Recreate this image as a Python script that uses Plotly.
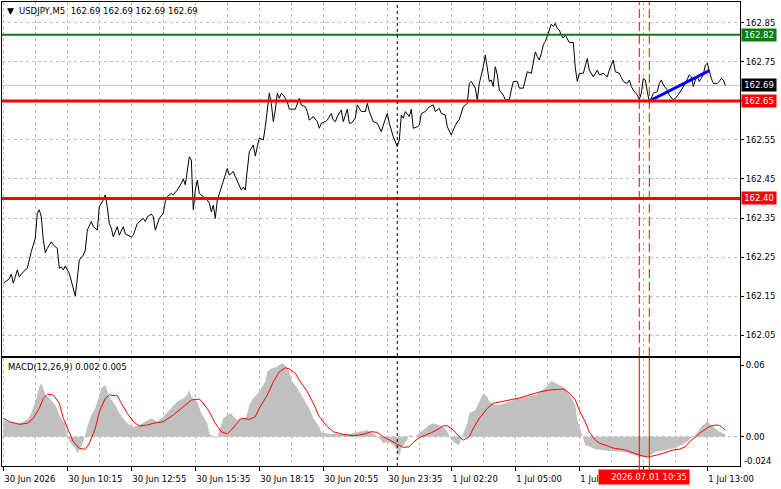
import plotly.graph_objects as go

# ---------------- data (bar index = 5-minute bar number) ----------------
price_bars = [0, 2, 3, 4, 5, 6, 7, 8, 10, 12, 14, 16, 17, 18, 19, 20, 21, 22, 24, 25, 27, 28, 29, 30, 31, 33, 34, 35, 36, 38,
              40, 41, 42, 44, 45, 47, 48, 50, 51, 52, 53, 54, 55, 57, 58, 60, 61, 64, 65, 67, 69, 70, 71, 72, 74, 75, 76, 78,
              80, 81, 82, 84, 85, 87, 89, 90, 91, 92, 93, 94, 95, 96, 97, 98, 100, 102, 103, 104, 105, 106, 107, 108, 109,
              110, 112, 113, 115, 116, 118, 119, 120, 121, 122, 123, 125, 126, 127, 128, 130, 131, 133, 134, 135, 136, 137,
              138, 139, 140, 142, 143, 146, 148, 149, 151, 152, 153, 155, 157, 158, 159, 161, 162, 164, 165, 166, 167, 169,
              170, 172, 173, 174, 176, 177, 178, 179, 181, 182, 183, 185, 187, 189, 190, 192, 193, 195, 197, 198, 199, 200,
              201, 203, 204, 205, 207, 208, 209, 211, 213, 215, 216, 218, 219, 221, 222, 224, 226, 228, 230, 232, 233, 234,
              236, 237, 238, 240, 241, 242, 243, 244, 245, 246, 247, 248, 250, 251, 253, 254, 255, 257, 258, 260, 261, 262,
              264, 265, 266, 267, 268, 269, 270, 271, 272, 274, 275, 276, 277, 278, 279, 280, 281, 282, 283, 285, 286, 287,
              288, 290, 292, 293, 295, 297, 298, 300, 302, 303, 305, 306, 308, 310, 312, 313, 314, 315, 317, 318, 319, 320,
              321, 322, 323, 324, 325, 327, 328, 329, 330, 332, 333, 335, 336, 338, 339, 341, 343, 344, 345, 346, 347, 348,
              350, 351, 352, 353, 354, 355, 357, 358, 359, 360, 361]
price_vals = [162.183, 162.191, 162.194, 162.206, 162.183, 162.199, 162.217, 162.199, 162.212, 162.221, 162.264, 162.298,
              162.362, 162.371, 162.353, 162.294, 162.261, 162.272, 162.289, 162.281, 162.272, 162.221, 162.225, 162.217,
              162.227, 162.208, 162.187, 162.165, 162.150, 162.242, 162.255, 162.268, 162.319, 162.341, 162.328, 162.319,
              162.379, 162.396, 162.409, 162.379, 162.336, 162.324, 162.302, 162.328, 162.306, 162.328, 162.309, 162.301,
              162.306, 162.336, 162.345, 162.349, 162.341, 162.353, 162.360, 162.353, 162.319, 162.349, 162.362, 162.392,
              162.405, 162.413, 162.409, 162.422, 162.439, 162.450, 162.435, 162.473, 162.507, 162.499, 162.371, 162.422,
              162.447, 162.413, 162.405, 162.396, 162.388, 162.366, 162.383, 162.349, 162.396, 162.413, 162.430, 162.447,
              162.477, 162.460, 162.469, 162.456, 162.430, 162.422, 162.429, 162.422, 162.473, 162.520, 162.537, 162.509,
              162.533, 162.555, 162.550, 162.584, 162.670, 162.644, 162.597, 162.627, 162.670, 162.657, 162.670, 162.665,
              162.648, 162.629, 162.629, 162.657, 162.640, 162.635, 162.623, 162.601, 162.610, 162.597, 162.580, 162.593,
              162.597, 162.601, 162.618, 162.601, 162.597, 162.610, 162.627, 162.597, 162.629, 162.593, 162.593, 162.606,
              162.640, 162.631, 162.623, 162.623, 162.644, 162.623, 162.597, 162.593, 162.571, 162.588, 162.618, 162.593,
              162.558, 162.533, 162.550, 162.614, 162.606, 162.623, 162.610, 162.629, 162.580, 162.584, 162.588, 162.618,
              162.623, 162.635, 162.640, 162.623, 162.631, 162.618, 162.614, 162.584, 162.563, 162.588, 162.603, 162.635,
              162.644, 162.695, 162.700, 162.683, 162.653, 162.695, 162.738, 162.768, 162.729, 162.700, 162.704, 162.687,
              162.738, 162.717, 162.678, 162.665, 162.653, 162.653, 162.678, 162.700, 162.700, 162.683, 162.683, 162.704,
              162.725, 162.721, 162.747, 162.776, 162.764, 162.755, 162.772, 162.794, 162.802, 162.819, 162.847, 162.841,
              162.849, 162.836, 162.832, 162.819, 162.811, 162.819, 162.808, 162.800, 162.800, 162.735, 162.700, 162.721,
              162.721, 162.759, 162.729, 162.712, 162.729, 162.717, 162.721, 162.712, 162.729, 162.755, 162.725, 162.721,
              162.700, 162.695, 162.704, 162.687, 162.678, 162.665, 162.654, 162.670, 162.708, 162.704, 162.674, 162.648,
              162.657, 162.670, 162.674, 162.695, 162.704, 162.691, 162.678, 162.665, 162.653, 162.657, 162.670, 162.678,
              162.695, 162.717, 162.712, 162.687, 162.704, 162.712, 162.700, 162.717, 162.742, 162.747, 162.725, 162.708,
              162.695, 162.695, 162.700, 162.708, 162.704, 162.690]

hist_bars = [0, 3, 8, 12, 14, 16, 18, 19, 20, 21, 23, 26, 28, 31, 32, 33, 36, 37, 38, 40, 41, 42, 44, 46, 48, 49, 51, 52,
             53, 56, 58, 62, 65, 68, 72, 74, 77, 80, 83, 87, 90, 92, 93, 94, 97, 99, 102, 103, 105, 107, 108, 110, 112, 114,
             115, 117, 118, 121, 122, 123, 125, 128, 131, 132, 134, 137, 139, 141, 143, 144, 147, 150, 153, 155, 158, 159,
             162, 167, 173, 178, 182, 185, 188, 190, 192, 195, 197, 198, 199, 202, 203, 206, 208, 211, 213, 215, 218, 220,
             222, 224, 226, 228, 229, 232, 233, 236, 238, 240, 242, 243, 246, 248, 258, 266, 271, 274, 278, 281, 283, 286,
             287, 289, 291, 296, 303, 311, 318, 322, 326, 331, 336, 341, 343, 346, 348, 349, 351, 352, 353, 354, 356, 358, 361]
hist_vals = [0.0140, 0.0126, 0.0112, 0.0140, 0.0196, 0.0293, 0.0418, 0.0447, 0.0405, 0.0349, 0.0321, 0.0265, 0.0181, 0.0098,
             0.0014, -0.0042, -0.0097, -0.0139, -0.0111, -0.0042, 0.0014, 0.0084, 0.0182, 0.0238, 0.0349, 0.0405, 0.0432,
             0.0391, 0.0335, 0.0265, 0.0196, 0.0112, 0.0084, 0.0098, 0.0140, 0.0154, 0.0126, 0.0167, 0.0223, 0.0293, 0.0321,
             0.0349, 0.0391, 0.0335, 0.0293, 0.0196, 0.0112, 0.0028, 0.0, -0.0013, 0.0056, 0.0154, 0.0182, 0.0196, 0.0167,
             0.0140, 0.0154, 0.0154, 0.0196, 0.0265, 0.0321, 0.0377, 0.0460, 0.0544, 0.0572, 0.0586, 0.0614, 0.0600, 0.0544,
             0.0474, 0.0405, 0.0321, 0.0238, 0.0154, 0.0084, 0.0037, 0.0028, 0.0023, 0.0023, 0.0042, 0.0056, 0.0028, -0.0013,
             -0.0055, -0.0042, -0.0069, -0.0111, -0.0167, -0.0097, -0.0028, 0.0014, 0.0, 0.0028, 0.0070, 0.0098, 0.0112,
             0.0098, 0.0084, 0.0042, -0.0028, -0.0055, -0.0069, -0.0013, 0.0112, 0.0196, 0.0223, 0.0293, 0.0363, 0.0335,
             0.0293, 0.0265, 0.0265, 0.0324, 0.0349, 0.0408, 0.0467, 0.0433, 0.0408, 0.0349, 0.0265, 0.0140, 0.0039, -0.0069,
             -0.0103, -0.0120, -0.0128, -0.0170, -0.0170, -0.0128, -0.0111, -0.0095, -0.0053, -0.0028, 0.0014, 0.0056,
             0.0084, 0.0112, 0.0134, 0.0112, 0.0098, 0.0070, 0.0042, 0.0020]

sig_bars = [0, 3, 8, 12, 15, 18, 20, 22, 25, 28, 30, 33, 35, 38, 41, 43, 46, 48, 51, 53, 57, 59, 62, 65, 68, 72, 75, 80, 85,
            90, 94, 98, 100, 103, 106, 109, 112, 114, 117, 119, 122, 123, 126, 128, 132, 135, 138, 141, 143, 146, 148, 152,
            155, 158, 162, 165, 170, 175, 180, 184, 187, 190, 194, 198, 200, 203, 205, 208, 211, 214, 218, 220, 222, 225,
            228, 230, 233, 235, 238, 242, 245, 248, 253, 258, 263, 268, 273, 280, 283, 286, 288, 291, 293, 296, 298, 305,
            311, 318, 322, 327, 335, 338, 341, 343, 346, 348, 351, 353, 356, 358, 359, 361]
sig_vals = [0.0154, 0.0126, 0.0104, 0.0112, 0.0154, 0.0238, 0.0321, 0.0355, 0.0349, 0.0280, 0.0154, 0.0042, -0.0042,
            -0.0097, -0.0105, -0.0055, 0.0070, 0.0209, 0.0321, 0.0349, 0.0343, 0.0280, 0.0196, 0.0126, 0.0090, 0.0098,
            0.0112, 0.0126, 0.0182, 0.0251, 0.0307, 0.0316, 0.0280, 0.0209, 0.0112, 0.0042, 0.0023, 0.0056, 0.0112, 0.0154,
            0.0148, 0.0145, 0.0167, 0.0238, 0.0349, 0.0460, 0.0544, 0.0577, 0.0567, 0.0531, 0.0474, 0.0377, 0.0280, 0.0167,
            0.0084, 0.0042, 0.0020, 0.0008, 0.0020, 0.0042, 0.0037, 0.0, -0.0036, -0.0069, -0.0089, -0.0084, -0.0047,
            -0.0008, 0.0014, 0.0033, 0.0070, 0.0092, 0.0092, 0.0056, 0.0, -0.0028, 0.0, 0.0070, 0.0154, 0.0238, 0.0280,
            0.0288, 0.0307, 0.0324, 0.0349, 0.0374, 0.0391, 0.0399, 0.0366, 0.0307, 0.0223, 0.0123, 0.0039, -0.0028,
            -0.0053, -0.0095, -0.0111, -0.0153, -0.0170, -0.0153, -0.0111, -0.0105, -0.0084, -0.0042, -0.0005, 0.0028,
            0.0062, 0.0084, 0.0098, 0.0095, 0.0084, 0.0055]

time_tick_bars = [0, 32, 64, 96, 128, 160, 192, 224, 256, 288, 320, 352]
# the label at bar 288 is cut by the red time marker box and the one at 320 is hidden by it
time_tick_labels = ["30 Jun 2026", "30 Jun 10:15", "30 Jun 12:55", "30 Jun 15:35", "30 Jun 18:15", "30 Jun 20:55",
                    "30 Jun 23:35", "1 Jul 02:20", "1 Jul 05:00", "1 Jul", "", "1 Jul 13:00"]
price_ticks = [162.05, 162.15, 162.25, 162.35, 162.45, 162.55, 162.65, 162.75, 162.85]
price_tick_labels = ["162.05", "162.15", "162.25", "162.35", "162.45", "162.55", "", "162.75", "162.85"]
macd_ticks = [0.06, 0.0]
macd_tick_labels = ["0.06", "0.00"]
macd_min_label = -0.024

level_green = 162.82
levels_red = [162.65, 162.40]
bid_price = 162.69
trend_bars = [323, 353]
trend_vals = [162.650, 162.728]
vline_black_bar = 197
vlines_red_bars = [318, 323]
marker_time_label = "2026.07.01 10:35"
title_text = "USDJPY,M5\u00a0\u00a0162.69 162.69 162.69 162.69"
macd_title = "MACD(12,26,9) 0.002 0.005"

# ---------------- figure ----------------
FONT = "DejaVu Sans"
FS = 8.5
GRID = "#c0c0c0"

fig = go.Figure()

fig.add_trace(go.Scatter(x=hist_bars, y=hist_vals, xaxis="x", yaxis="y2", mode="lines",
                         line=dict(width=0, color="#c0c0c0"), fill="tozeroy", fillcolor="#c0c0c0",
                         hoverinfo="skip", showlegend=False))
fig.add_trace(go.Scatter(x=sig_bars, y=sig_vals, xaxis="x", yaxis="y2", mode="lines",
                         line=dict(width=1, color="#ff0000"), showlegend=False))
fig.add_trace(go.Scatter(x=price_bars, y=price_vals, xaxis="x2", yaxis="y", mode="lines",
                         line=dict(width=1, color="#000000"), showlegend=False))
fig.add_trace(go.Scatter(x=trend_bars, y=trend_vals, xaxis="x2", yaxis="y", mode="lines",
                         line=dict(width=3, color="#0000ff"), showlegend=False))

shapes = []
shapes.append(dict(type="line", xref="x2 domain", yref="y", x0=0, x1=1, y0=bid_price, y1=bid_price,
                   line=dict(color="#c0c0c0", width=1), layer="below"))
shapes.append(dict(type="line", xref="x2 domain", yref="y", x0=0, x1=1, y0=level_green, y1=level_green,
                   line=dict(color="#0a7d0a", width=2)))
for lv in levels_red:
    shapes.append(dict(type="line", xref="x2 domain", yref="y", x0=0, x1=1, y0=lv, y1=lv,
                       line=dict(color="#ff0000", width=3)))
shapes.append(dict(type="line", xref="x domain", yref="y2", x0=0, x1=1, y0=0, y1=0,
                   line=dict(color="#b0b0b0", width=1, dash="3px,3px"), layer="below"))
shapes.append(dict(type="line", xref="x2", yref="y domain", x0=vline_black_bar, x1=vline_black_bar, y0=0, y1=1,
                   line=dict(color="#000000", width=1, dash="3px,3px")))
shapes.append(dict(type="line", xref="x", yref="y2 domain", x0=vline_black_bar, x1=vline_black_bar, y0=0, y1=1,
                   line=dict(color="#000000", width=1, dash="3px,3px")))
for vb in vlines_red_bars:
    shapes.append(dict(type="line", xref="x2", yref="y domain", x0=vb, x1=vb, y0=0, y1=1,
                       line=dict(color="#ff0000", width=1, dash="9px,4px")))
    shapes.append(dict(type="line", xref="x", yref="y2 domain", x0=vb, x1=vb, y0=-0.04, y1=1,
                       line=dict(color="#ff0000", width=1)))

annotations = []
annotations.append(dict(xref="paper", yref="paper", x=0.004, y=0.9815, xanchor="left", yanchor="middle",
                        text="\u25bc", showarrow=False, font=dict(family=FONT, size=9, color="#000")))
annotations.append(dict(xref="paper", yref="paper", x=0.0205, y=0.9808, xanchor="left", yanchor="middle",
                        text=title_text, showarrow=False, font=dict(family=FONT, size=FS, color="#000")))
annotations.append(dict(xref="paper", yref="paper", x=0.006, y=0.2135, xanchor="left", yanchor="middle",
                        text=macd_title, showarrow=False, font=dict(family=FONT, size=FS, color="#000")))


def price_box(val, bg):
    return dict(xref="paper", yref="y", x=1, y=val, xanchor="left", yanchor="middle", xshift=1,
                text=f"{val:.2f}", showarrow=False, bgcolor=bg, borderpad=1, width=32,
                font=dict(family=FONT, size=FS, color="#ffffff"))


annotations.append(price_box(level_green, "#0a7d0a"))
annotations.append(price_box(bid_price, "#000000"))
for lv in levels_red:
    annotations.append(price_box(lv, "#ff0000"))

annotations.append(dict(xref="paper", yref="y2", x=1, y=macd_min_label, xanchor="left", yanchor="middle",
                        xshift=2, yshift=4, text=f"{macd_min_label:.3f}", showarrow=False,
                        font=dict(family=FONT, size=FS, color="#000")))
annotations.append(dict(xref="paper", yref="paper", x=0.8075, y=-0.0245, xanchor="left", yanchor="middle",
                        text=marker_time_label, showarrow=False, bgcolor="#ff0000", borderpad=2, width=86,
                        align="right", font=dict(family=FONT, size=FS, color="#ffffff")))

axis_common = dict(showline=True, linecolor="#000000", linewidth=1, mirror=True, zeroline=False)

fig.update_layout(
    width=781, height=489,
    margin=dict(l=2, r=41, t=2, b=23),
    paper_bgcolor="#ffffff", plot_bgcolor="#ffffff",
    showlegend=False,
    font=dict(family=FONT, size=FS, color="#000"),
    xaxis=dict(domain=[0, 1], anchor="y2", range=[-0.65, 368.35],
               tickmode="array", tickvals=time_tick_bars, ticktext=time_tick_labels,
               ticks="outside", ticklen=4, tickcolor="#000", ticklabelposition="outside right",
               ticklabelstandoff=5,
               tickfont=dict(family=FONT, size=FS, color="#000"),
               showgrid=True, gridcolor=GRID, griddash="3px,3px", gridwidth=1,
               minor=dict(tickmode="linear", tick0=0, dtick=16, showgrid=True, gridcolor=GRID,
                          griddash="3px,3px", ticks=""),
               **axis_common),
    xaxis2=dict(domain=[0, 1], anchor="y", matches="x", showticklabels=False, ticks="",
                tickmode="array", tickvals=time_tick_bars,
                showgrid=True, gridcolor=GRID, griddash="3px,3px",
                minor=dict(tickmode="linear", tick0=0, dtick=16, showgrid=True, gridcolor=GRID,
                           griddash="3px,3px", ticks=""),
                **axis_common),
    yaxis=dict(domain=[0.2371, 1], anchor="x2", side="right", range=[161.9962, 162.9038],
               tickmode="array", tickvals=price_ticks, ticktext=price_tick_labels,
               ticks="outside", ticklen=3, tickcolor="#000",
               tickfont=dict(family=FONT, size=FS, color="#000"),
               showgrid=True, gridcolor=GRID, griddash="3px,3px", **axis_common),
    yaxis2=dict(domain=[0, 0.2328], anchor="x", side="right", range=[-0.0245, 0.0659],
                tickmode="array", tickvals=macd_ticks, ticktext=macd_tick_labels,
                ticks="outside", ticklen=3, tickcolor="#000",
                tickfont=dict(family=FONT, size=FS, color="#000"),
                showgrid=False, **axis_common),
    shapes=shapes,
    annotations=annotations,
)

fig.write_html("out.html")
